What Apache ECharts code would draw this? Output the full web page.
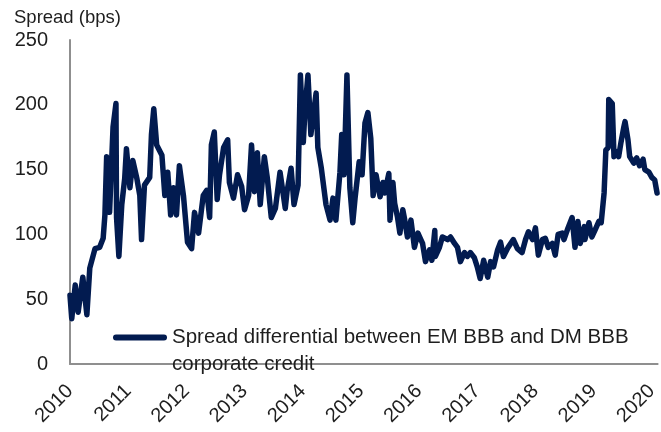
<!DOCTYPE html>
<html>
<head>
<meta charset="utf-8">
<script src="https://cdn.jsdelivr.net/npm/echarts@6/dist/echarts.min.js"></script>
<style>
  html, body { margin: 0; padding: 0; background: #fff; }
  #chart { width: 661px; height: 432px; }
</style>
</head>
<body>
<div id="chart"></div>
<script>
// Observation dates as fractional years
const dates = [
  2010.00, 2010.03, 2010.09, 2010.14, 2010.22, 2010.29, 2010.34, 2010.43, 2010.51, 2010.57,
  2010.60, 2010.63, 2010.68, 2010.74, 2010.79, 2010.80, 2010.84, 2010.89, 2010.94, 2010.97,
  2011.03, 2011.08, 2011.15, 2011.20, 2011.23, 2011.28, 2011.37, 2011.40, 2011.44, 2011.49,
  2011.58, 2011.63, 2011.68, 2011.73, 2011.78, 2011.83, 2011.88, 2011.95, 2012.02, 2012.09,
  2012.14, 2012.21, 2012.29, 2012.35, 2012.40, 2012.43, 2012.48, 2012.53, 2012.57, 2012.64,
  2012.71, 2012.74, 2012.81, 2012.88, 2012.95, 2013.00, 2013.07, 2013.12, 2013.17, 2013.22,
  2013.27, 2013.34, 2013.39, 2013.46, 2013.53, 2013.61, 2013.70, 2013.73, 2013.80, 2013.85,
  2013.92, 2013.96, 2014.01, 2014.04, 2014.09, 2014.14, 2014.23, 2014.26, 2014.32, 2014.40,
  2014.47, 2014.52, 2014.57, 2014.64, 2014.67, 2014.71, 2014.76, 2014.81, 2014.86, 2014.90,
  2014.97, 2015.02, 2015.07, 2015.12, 2015.17, 2015.21, 2015.26, 2015.33, 2015.38, 2015.41,
  2015.48, 2015.50, 2015.55, 2015.58, 2015.63, 2015.67, 2015.72, 2015.75, 2015.80, 2015.86,
  2015.92, 2015.98, 2016.03, 2016.06, 2016.11, 2016.18, 2016.22, 2016.27, 2016.28, 2016.35,
  2016.40, 2016.49, 2016.54, 2016.61, 2016.66, 2016.71, 2016.78, 2016.83, 2016.88, 2016.95,
  2017.00, 2017.05, 2017.11, 2017.18, 2017.23, 2017.28, 2017.35, 2017.40, 2017.45, 2017.53,
  2017.62, 2017.69, 2017.77, 2017.83, 2017.88, 2017.95, 2018.00, 2018.05, 2018.12, 2018.17,
  2018.22, 2018.29, 2018.34, 2018.39, 2018.46, 2018.49, 2018.56, 2018.63, 2018.68, 2018.73,
  2018.77, 2018.84, 2018.85, 2018.92, 2018.97, 2019.02, 2019.09, 2019.13, 2019.18, 2019.21,
  2019.25, 2019.26, 2019.32, 2019.35, 2019.38, 2019.43, 2019.47, 2019.52, 2019.54, 2019.59,
  2019.62, 2019.69, 2019.74, 2019.79, 2019.85, 2019.88, 2019.95, 2020.00, 2020.05, 2020.09
];

// Spread differential between EM BBB and DM BBB corporate credit (bps)
const spread = [
  53, 35, 61, 40, 67, 38, 74, 89, 90, 97,
  115, 160, 117, 183, 201, 113, 83, 123, 143, 166,
  136, 157, 143, 130, 96, 138, 144, 177, 197, 169,
  161, 130, 148, 115, 136, 115, 153, 130, 94, 89,
  117, 101, 130, 134, 113, 169, 179, 127, 146, 167,
  173, 140, 128, 146, 137, 119, 130, 169, 133, 163,
  123, 160, 144, 113, 120, 148, 120, 133, 151, 123,
  138, 223, 171, 197, 223, 177, 209, 167, 151, 123,
  111, 128, 111, 148, 177, 146, 223, 136, 109, 128,
  156, 146, 186, 194, 174, 130, 146, 129, 140, 132,
  147, 111, 140, 124, 113, 101, 119, 112, 98, 111,
  90, 101, 96, 93, 79, 88, 80, 103, 83, 90,
  98, 96, 98, 93, 90, 79, 86, 83, 86, 82,
  75, 66, 80, 67, 79, 75, 88, 94, 83, 90,
  96, 89, 86, 96, 102, 96, 105, 84, 96, 97,
  90, 93, 84, 100, 101, 96, 105, 113, 90, 110,
  93, 106, 96, 109, 98, 103, 110, 109, 132, 165,
  167, 204, 201, 160, 164, 160, 171, 183, 187, 173,
  160, 155, 159, 153, 158, 150, 148, 144, 142, 132
];

const yTicks = [0, 50, 100, 150, 200, 250];
const seriesName = 'Spread differential between EM BBB and DM BBB corporate credit';
const legendLines = ['Spread differential between EM BBB and DM BBB', 'corporate credit'];
const yAxisTitle = 'Spread (bps)';

const navy = '#021b50';
const axisGrey = '#8f8f8f';
const textColor = '#1e1e1e';
const fontFamily = '"Liberation Sans", Arial, sans-serif';

const points = dates.map((d, i) => [d, spread[i]]);

const chart = echarts.init(document.getElementById('chart'), null, { renderer: 'canvas' });

chart.setOption({
  animation: false,
  backgroundColor: '#ffffff',
  textStyle: { fontFamily: fontFamily },
  title: {
    text: yAxisTitle,
    left: 14,
    top: 8,
    padding: 0,
    textStyle: { fontFamily: fontFamily, fontSize: 18.5, fontWeight: 'normal', color: textColor }
  },
  grid: { left: 70, right: 0, top: 40, bottom: 68 },
  xAxis: {
    type: 'value',
    min: 2010,
    max: 2020.1,
    interval: 1,
    axisLine: { show: true, lineStyle: { color: axisGrey, width: 2 } },
    axisTick: { show: false },
    splitLine: { show: false },
    axisLabel: {
      rotate: 45,
      margin: 24,
      showMaxLabel: false,
      fontFamily: fontFamily,
      fontSize: 20,
      color: textColor,
      formatter: v => (Number.isInteger(v) ? String(v) : '')
    }
  },
  yAxis: {
    type: 'value',
    min: yTicks[0],
    max: yTicks[yTicks.length - 1],
    interval: yTicks[1] - yTicks[0],
    axisLine: { show: true, lineStyle: { color: axisGrey, width: 2 } },
    axisTick: { show: false },
    splitLine: { show: false },
    axisLabel: {
      margin: 22,
      fontFamily: fontFamily,
      fontSize: 20,
      color: textColor
    }
  },
  legend: {
    show: true,
    left: 113,
    top: 297,
    padding: 0,
    itemWidth: 54,
    itemHeight: 6,
    icon: 'path://M3,0 L51,0 A3,3 0 0 1 51,6 L3,6 A3,3 0 0 1 3,0 Z',
    data: [seriesName],
    // blank first line keeps the icon level with the first text line
    formatter: () => '\n' + legendLines.join('\n'),
    itemStyle: { color: navy },
    textStyle: { fontFamily: fontFamily, fontSize: 20.5, color: textColor, lineHeight: 27 }
  },
  series: [{
    name: seriesName,
    type: 'line',
    data: points,
    showSymbol: false,
    symbol: 'none',
    lineStyle: { color: navy, width: 5.5, cap: 'round', join: 'round' },
    itemStyle: { color: navy }
  }]
});
</script>
</body>
</html>
